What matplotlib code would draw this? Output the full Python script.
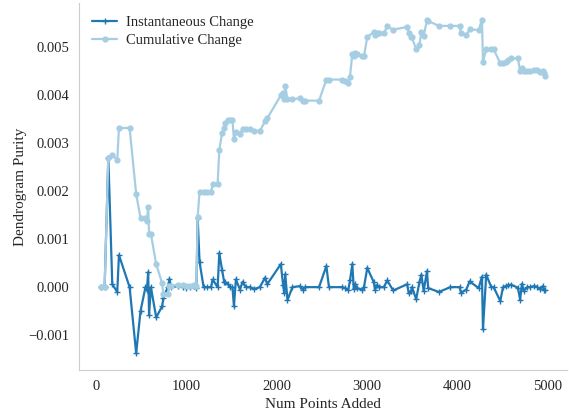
import matplotlib
matplotlib.use("Agg")
import matplotlib.pyplot as plt
import seaborn as sns

# points added (shared x for both series)
num_points = [
    55, 92, 133, 177, 232, 251, 369, 442, 490, 545,
    560, 575, 585, 605, 664, 730, 744, 793, 811, 830,
    903, 959, 1000, 1043, 1087, 1110, 1124, 1145, 1190, 1230,
    1272, 1290, 1345, 1364, 1394, 1419, 1427, 1460, 1482, 1510,
    1526, 1548, 1593, 1622, 1660, 1703, 1750, 1814, 1872, 1895,
    2046, 2072, 2083, 2095, 2120, 2175, 2256, 2290, 2315, 2470,
    2551, 2580, 2728, 2760, 2794, 2813, 2839, 2855, 2870, 2887,
    2950, 2968, 3005, 3078, 3090, 3110, 3130, 3189, 3226, 3292,
    3447, 3465, 3491, 3500, 3547, 3583, 3605, 3630, 3667, 3680,
    3800, 3926, 4029, 4044, 4103, 4140, 4240, 4277, 4288, 4324,
    4380, 4406, 4480, 4510, 4540, 4570, 4600, 4675, 4700, 4720,
    4740, 4780, 4810, 4850, 4885, 4920, 4950, 4965, 4977,
]

instantaneous = [
    0.0, 0.0, 0.00270, 0.00006, -0.00010, 0.00067, 0.0, -0.00138, -0.00050, 0.0,
    -0.00007, 0.00031, -0.00058, 0.0, -0.00063, -0.00040, -0.00022, 0.0, 0.00017, 0.0,
    0.00002, 0.0, -0.00002, 0.0, 0.00002, -0.00002, 0.00144, 0.00052, 0.0, 0.0,
    0.0, 0.00016, 0.0, 0.00071, 0.00036, 0.00010, 0.00010, 0.00006, 0.0, 0.0,
    -0.00040, 0.00016, -0.00005, 0.00011, 0.0, 0.0, -0.00004, 0.0, 0.00020, 0.00006,
    0.00048, 0.00004, -0.00012, 0.00027, -0.00027, 0.0, 0.00002, -0.00005, 0.0, 0.0,
    0.00044, 0.0, 0.0, -0.00002, -0.00006, 0.00014, 0.00048, -0.00004, 0.00006, -0.00002,
    -0.00005, 0.0, 0.00040, 0.00010, -0.00006, 0.00004, 0.0, 0.0, 0.00014, -0.00007,
    0.00006, -0.00013, -0.00009, 0.0, -0.00025, 0.00010, 0.00026, -0.00008, 0.00033, -0.00002,
    -0.00010, 0.0, 0.0, -0.00012, -0.00005, 0.00012, -0.00002, 0.00022, -0.00088, 0.00026,
    0.0, 0.0, -0.00029, 0.0, 0.00002, 0.00004, 0.00005, -0.00001, -0.00026, 0.00007,
    -0.00008, 0.0, 0.0, 0.00002, 0.00001, -0.00004, 0.00002, -0.00005, -0.00005,
]

cumulative = [
    0.0, 0.0, 0.00270, 0.00276, 0.00265, 0.00332, 0.00332, 0.00194, 0.00144, 0.00144,
    0.00137, 0.00168, 0.00111, 0.00111, 0.00048, 0.00008, -0.00014, -0.00014, 0.00003, 0.00003,
    0.00005, 0.00005, 0.00003, 0.00003, 0.00005, 0.00003, 0.00147, 0.00199, 0.00199, 0.00199,
    0.00199, 0.00215, 0.00215, 0.00286, 0.00322, 0.00332, 0.00342, 0.00348, 0.00348, 0.00348,
    0.00308, 0.00324, 0.00319, 0.00330, 0.00330, 0.00330, 0.00326, 0.00326, 0.00346, 0.00352,
    0.00400, 0.00404, 0.00392, 0.00419, 0.00392, 0.00392, 0.00394, 0.00389, 0.00389, 0.00389,
    0.00433, 0.00433, 0.00433, 0.00431, 0.00425, 0.00439, 0.00487, 0.00483, 0.00489, 0.00487,
    0.00482, 0.00482, 0.00522, 0.00532, 0.00526, 0.00530, 0.00530, 0.00530, 0.00544, 0.00537,
    0.00543, 0.00530, 0.00521, 0.00521, 0.00496, 0.00506, 0.00532, 0.00524, 0.00557, 0.00555,
    0.00545, 0.00545, 0.00545, 0.00531, 0.00526, 0.00538, 0.00536, 0.00558, 0.00470, 0.00496,
    0.00496, 0.00496, 0.00467, 0.00467, 0.00469, 0.00473, 0.00478, 0.00477, 0.00451, 0.00458,
    0.00450, 0.00450, 0.00450, 0.00452, 0.00453, 0.00449, 0.00451, 0.00446, 0.00441,
]

sns.set_style("white")
plt.rcParams["font.family"] = ["Liberation Serif", "DejaVu Serif"]
plt.rcParams["axes.unicode_minus"] = True

fig = plt.figure(figsize=(5.69, 4.11), dpi=100)
ax = fig.add_axes([0.139, 0.0998, 0.858, 0.893])

ax.plot(num_points, instantaneous, marker="+", markersize=5, linewidth=1.6,
        color="#1f78b4", label="Instantaneous Change")
ax.plot(num_points, cumulative, marker="o", markersize=3.5, linewidth=1.6,
        color="#a6cee3", label="Cumulative Change")

ax.set_xlabel("Num Points Added", fontsize=11)
ax.set_ylabel("Dendrogram Purity", fontsize=11, labelpad=1)
ax.tick_params(labelsize=10.5)
ax.set_xticks([0, 1000, 2000, 3000, 4000, 5000])

sns.despine(ax=ax)
for side in ["left", "bottom"]:
    ax.spines[side].set_color("#cccccc")

ax.legend(loc="upper left", frameon=False, fontsize=10.5,
          handlelength=1.7, handletextpad=0.6, labelspacing=0.3,
          borderaxespad=0.5)

fig.savefig("out.png", dpi=100)
